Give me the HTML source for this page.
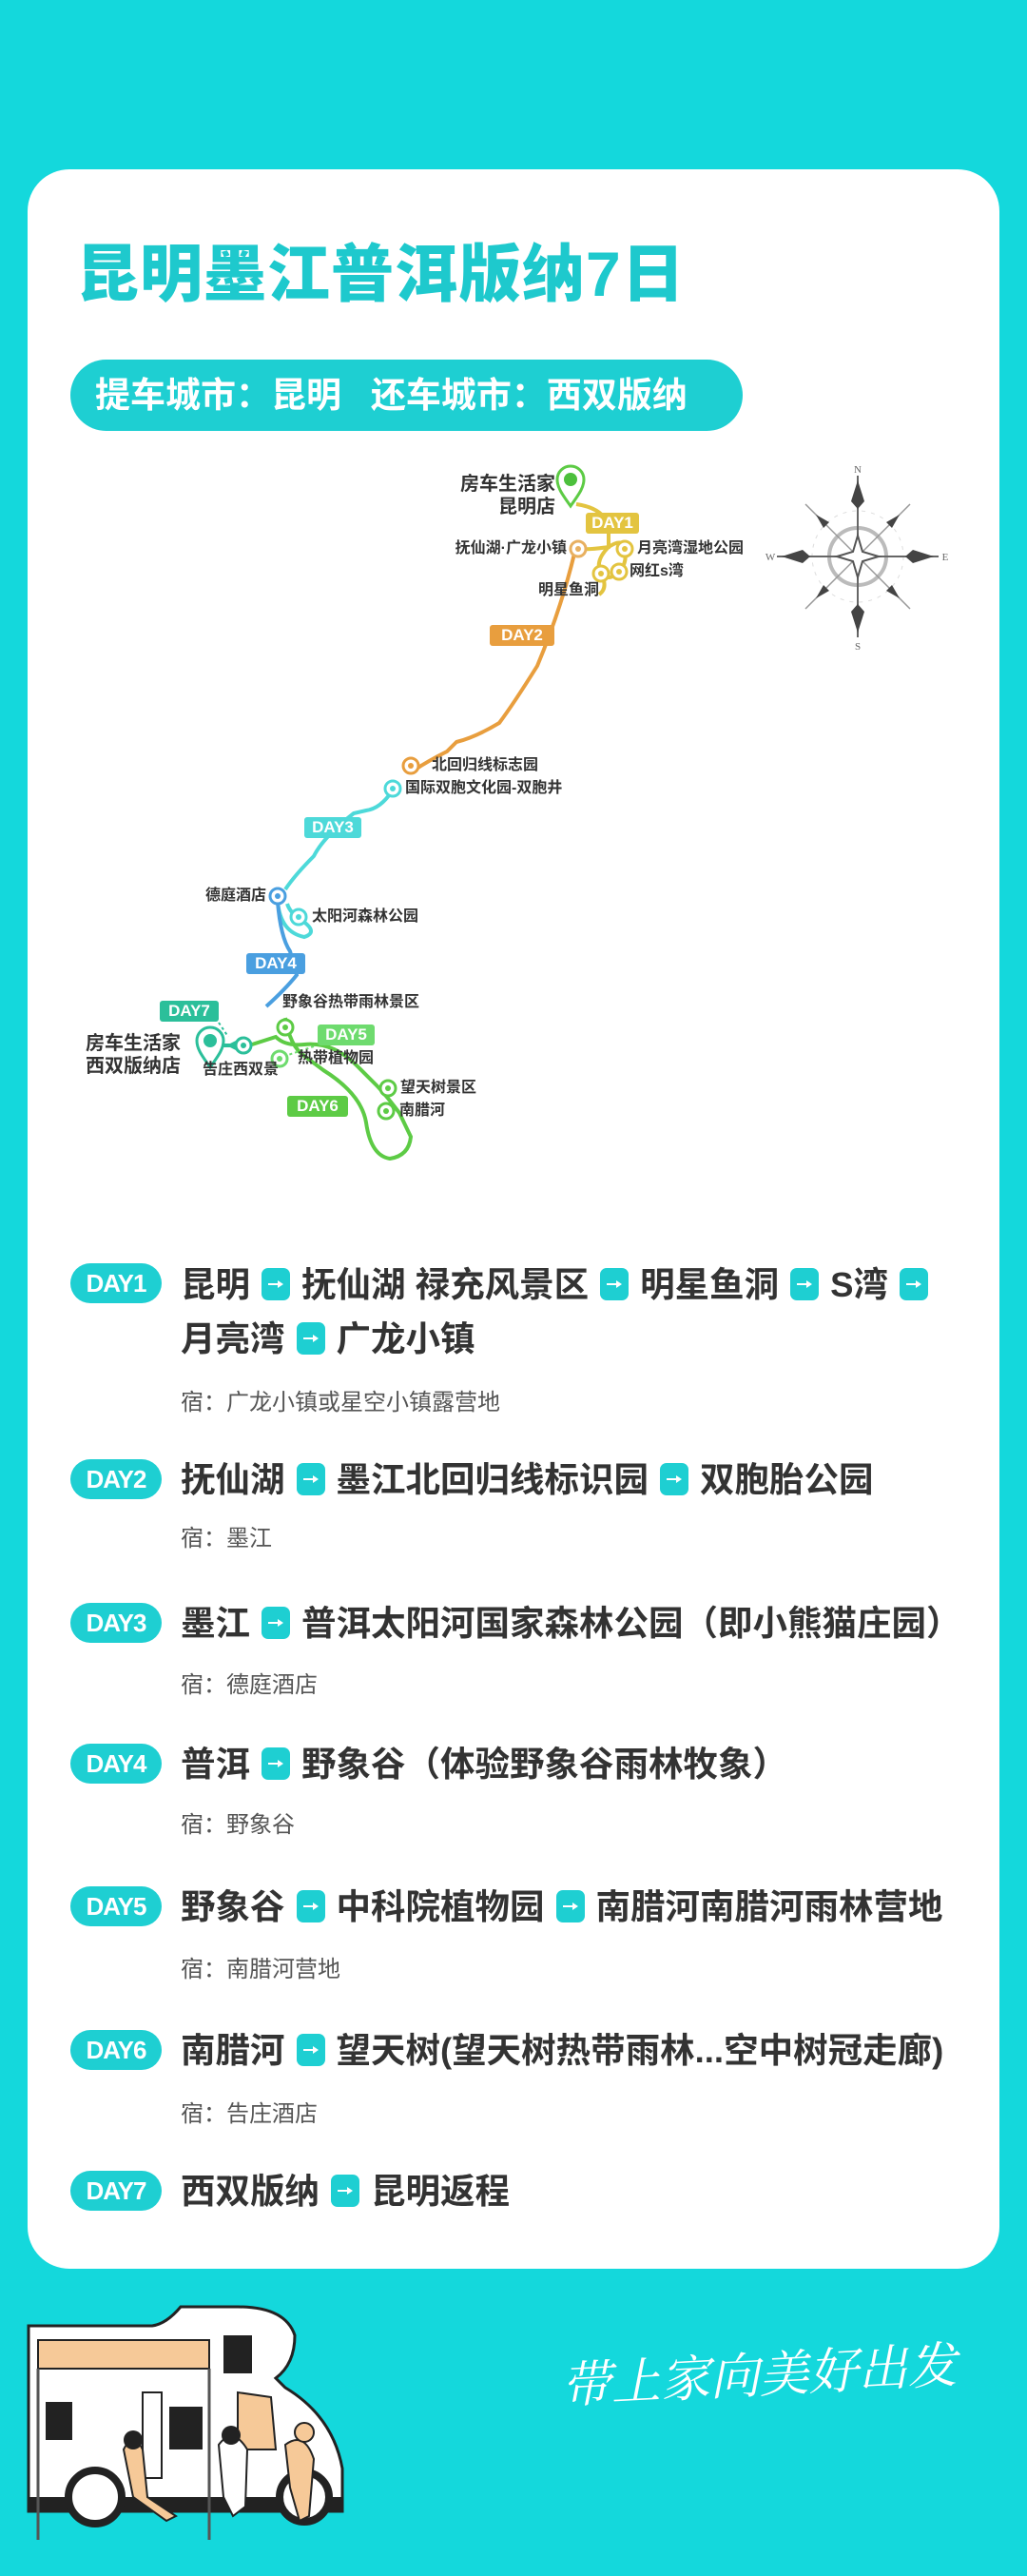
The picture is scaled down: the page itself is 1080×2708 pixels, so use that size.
<!DOCTYPE html>
<html><head><meta charset="utf-8">
<style>
*{margin:0;padding:0;box-sizing:border-box}
body{width:1080px;height:2708px;background:#14D8DC;position:relative;overflow:hidden;font-family:"Liberation Sans","Noto Sans CJK SC",sans-serif}
.card{position:absolute;left:29px;top:178px;width:1022px;height:2207px;background:#fff;border-radius:44px}
.title{position:absolute;left:80px;top:248px;font-size:66px;font-weight:900;color:#1EC9CD;letter-spacing:1px;white-space:nowrap;line-height:80px}
.pill{position:absolute;left:74px;top:378px;width:707px;height:75px;background:#1ECFD2;border-radius:38px;color:#fff;font-size:37px;font-weight:700;line-height:75px;padding-left:26px;white-space:nowrap}
.badge{position:absolute;left:74px;width:96px;height:42px;border-radius:21px;background:#1ECFD2;color:#fff;font-size:26px;font-weight:700;text-align:center;line-height:42px;letter-spacing:-1px}
.line{position:absolute;left:190px;font-size:36.5px;font-weight:700;color:#333;white-space:nowrap;line-height:50px}
.ar{display:inline-block;width:30px;height:34px;background:#1ECFD2;border-radius:7px;vertical-align:-4px;margin:0 12px;position:relative}
.ar:after{content:"";position:absolute;left:7px;top:16px;width:13px;height:2px;background:#fff}
.ar:before{content:"";position:absolute;left:17px;top:13px;border-left:6px solid #fff;border-top:4px solid transparent;border-bottom:4px solid transparent}
.stay{position:absolute;left:190px;font-size:24px;color:#555;white-space:nowrap}
.ml{position:absolute;font-size:18px;font-weight:700;color:#333;white-space:nowrap;line-height:22px}
.mb{position:absolute;color:#fff;font-size:17px;font-weight:700;text-align:center;border-radius:3px;line-height:22px}
.slogan{position:absolute;left:590px;top:2455px;font-family:"Liberation Serif","Noto Serif CJK SC",serif;font-style:italic;font-size:52px;color:#fff;white-space:nowrap;transform:rotate(-3deg)}
</style></head><body>
<div class="card"></div>
<div class="title">昆明墨江普洱版纳7日</div>
<div class="pill">提车城市：昆明&nbsp;&nbsp;&nbsp;还车城市：西双版纳</div>

<svg style="position:absolute;left:0;top:0" width="1080" height="1260">
<path d="M606,530 Q640,535 640,560 L640,575 Q620,578 612,577" stroke="#E3C440" stroke-width="4" fill="none"/>
<path d="M640,575 Q655,565 657,577 Q660,592 651,601 Q640,612 632,603 Q625,590 640,575" stroke="#E3C440" stroke-width="4" fill="none"/>
<path d="M632,603 Q640,618 630,625" stroke="#E3C440" stroke-width="4" fill="none"/>
<path d="M604,582 Q590,640 565,700 Q540,740 525,760 Q500,775 480,780 L470,790 Q450,800 435,810" stroke="#E89E3E" stroke-width="4" fill="none"/>
<path d="M412,832 Q400,850 385,852 L372,855 Q340,880 330,900 Q310,920 300,935" stroke="#4DD9D9" stroke-width="4" fill="none"/>
<path d="M292,948 Q295,980 320,985 Q335,980 318,968 Q305,960 302,950" stroke="#4DD9D9" stroke-width="4" fill="none"/>
<path d="M292,948 Q295,985 305,1000 L312,1025 Q300,1040 280,1058" stroke="#4A9FE0" stroke-width="4" fill="none"/>
<path d="M300,1070 Q305,1100 320,1110 L340,1125 Q380,1150 385,1180 Q390,1215 410,1218 Q430,1215 432,1195 L420,1170 Q405,1150 395,1140 L375,1120 Q350,1095 320,1098 Q300,1100 290,1090 L265,1098" stroke="#5DCB45" stroke-width="4" fill="none"/>
<path d="M233,1099 L250,1099" stroke="#2BBF9A" stroke-width="4"/>
<path d="M248,1094 L238,1099 L248,1104Z" fill="#2BBF9A"/>
<path d="M230,1075 L240,1090" stroke="#2BBF9A" stroke-width="2" stroke-dasharray="3,3"/>
<path d="M330,1100 L300,1110" stroke="#6EDB6E" stroke-width="2" stroke-dasharray="3,3"/>
<g stroke-width="3" fill="#fff">
<circle cx="608" cy="577" r="8" stroke="#E8B060"/><circle cx="608" cy="577" r="3" fill="#E8B060"/>
<circle cx="657" cy="577" r="8" stroke="#E3C440"/><circle cx="657" cy="577" r="3" fill="#E3C440"/>
<circle cx="651" cy="601" r="8" stroke="#E3C440"/><circle cx="651" cy="601" r="3" fill="#E3C440"/>
<circle cx="632" cy="603" r="8" stroke="#E3C440"/><circle cx="632" cy="603" r="3" fill="#E3C440"/>
<circle cx="432" cy="805" r="8" stroke="#E89E3E"/><circle cx="432" cy="805" r="3" fill="#E89E3E"/>
<circle cx="413" cy="829" r="8" stroke="#4DD9D9"/><circle cx="413" cy="829" r="3" fill="#4DD9D9"/>
<circle cx="292" cy="942" r="8" stroke="#4A9FE0"/><circle cx="292" cy="942" r="3" fill="#4A9FE0"/>
<circle cx="314" cy="964" r="8" stroke="#4DD9D9"/><circle cx="314" cy="964" r="3" fill="#4DD9D9"/>
<circle cx="300" cy="1080" r="8" stroke="#5DCB45"/><circle cx="300" cy="1080" r="3" fill="#5DCB45"/>
<circle cx="294" cy="1113" r="8" stroke="#6EDB6E"/><circle cx="294" cy="1113" r="3" fill="#6EDB6E"/>
<circle cx="408" cy="1144" r="8" stroke="#5DCB45"/><circle cx="408" cy="1144" r="3" fill="#5DCB45"/>
<circle cx="406" cy="1168" r="8" stroke="#5DCB45"/><circle cx="406" cy="1168" r="3" fill="#5DCB45"/>
<circle cx="256" cy="1099" r="8" stroke="#2BBF9A"/><circle cx="256" cy="1099" r="3" fill="#2BBF9A"/>
</g>
<path d="M600,532 C590,518 586,512 586,504 A14,14 0 1 1 614,504 C614,512 610,518 600,532Z" fill="#fff" stroke="#5DCB45" stroke-width="3"/>
<circle cx="600" cy="504" r="7" fill="#4CC03C"/>
<path d="M221,1122 C211,1108 207,1102 207,1094 A14,14 0 1 1 235,1094 C235,1102 231,1108 221,1122Z" fill="#fff" stroke="#2BBF9A" stroke-width="3"/>
<circle cx="221" cy="1094" r="7" fill="#2BBF9A"/>
<g transform="translate(902,585)" fill="#444" stroke="#666">
<circle r="30" fill="none" stroke="#bbb" stroke-width="4"/>
<circle r="48" fill="none" stroke="#ddd" stroke-width="1" stroke-dasharray="4,6"/>
<line x1="0" y1="-85" x2="0" y2="85" stroke-width="2"/><line x1="-85" y1="0" x2="85" y2="0" stroke-width="2"/>
<line x1="-55" y1="-55" x2="55" y2="55" stroke="#999" stroke-width="1.5"/><line x1="55" y1="-55" x2="-55" y2="55" stroke="#999" stroke-width="1.5"/>
<path d="M0,-22 L5,-5 L22,0 L5,5 L0,22 L-5,5 L-22,0 L-5,-5Z" fill="#fff" stroke="#555" stroke-width="2"/>
<g stroke="none">
<path d="M0,-80 L7,-58 L0,-50 L-7,-58Z"/><path d="M0,80 L7,58 L0,50 L-7,58Z"/>
<path d="M80,0 L58,7 L50,0 L58,-7Z"/><path d="M-80,0 L-58,7 L-50,0 L-58,-7Z"/>
<path d="M-44,-44 L-30,-36 L-36,-30Z"/><path d="M44,-44 L30,-36 L36,-30Z"/>
<path d="M44,44 L30,36 L36,30Z"/><path d="M-44,44 L-30,36 L-36,30Z"/>
</g>
<g font-size="11" fill="#666" stroke="none" font-family="Liberation Serif,serif" text-anchor="middle">
<text y="-88">N</text><text y="98">S</text><text x="92" y="4">E</text><text x="-92" y="4">W</text>
</g>
</g>
</svg>

<div class="ml" style="left:468px;top:497px;text-align:right;width:116px;font-size:20px;line-height:24px">房车生活家<br>昆明店</div>
<div class="mb" style="left:616px;top:539px;width:56px;background:#E3C440">DAY1</div>
<div class="ml" style="left:454px;top:566px;width:142px;text-align:right;font-size:16px">抚仙湖·广龙小镇</div>
<div class="ml" style="left:670px;top:566px;font-size:16px">月亮湾湿地公园</div>
<div class="ml" style="left:662px;top:590px;font-size:16px">网红s湾</div>
<div class="ml" style="left:566px;top:610px;font-size:16px">明星鱼洞</div>
<div class="mb" style="left:515px;top:657px;width:68px;background:#E89E3E">DAY2</div>
<div class="ml" style="left:454px;top:794px;font-size:16px">北回归线标志园</div>
<div class="ml" style="left:426px;top:818px;font-size:16px">国际双胞文化园-双胞井</div>
<div class="mb" style="left:320px;top:859px;width:60px;background:#4DD9D9">DAY3</div>
<div class="ml" style="left:200px;top:931px;width:80px;text-align:right;font-size:16px">德庭酒店</div>
<div class="ml" style="left:328px;top:953px;font-size:16px">太阳河森林公园</div>
<div class="mb" style="left:259px;top:1002px;width:62px;background:#4A9FE0">DAY4</div>
<div class="ml" style="left:297px;top:1043px;font-size:16px">野象谷热带雨林景区</div>
<div class="mb" style="left:168px;top:1052px;width:62px;background:#2BBF9A">DAY7</div>
<div class="mb" style="left:334px;top:1077px;width:60px;background:#6EDB6E">DAY5</div>
<div class="ml" style="left:90px;top:1085px;font-size:20px;line-height:24px">房车生活家<br>西双版纳店</div>
<div class="ml" style="left:313px;top:1102px;font-size:16px">热带植物园</div>
<div class="ml" style="left:213px;top:1114px;font-size:16px">告庄西双景</div>
<div class="ml" style="left:421px;top:1133px;font-size:16px">望天树景区</div>
<div class="mb" style="left:302px;top:1152px;width:64px;background:#5DCB45">DAY6</div>
<div class="ml" style="left:420px;top:1157px;font-size:16px">南腊河</div>

<div class="badge" style="top:1328px">DAY1</div>
<div class="line" style="top:1326px">昆明<span class="ar"></span>抚仙湖 禄充风景区<span class="ar"></span>明星鱼洞<span class="ar"></span>S湾<span class="ar"></span></div>
<div class="line" style="top:1383px">月亮湾<span class="ar"></span>广龙小镇</div>
<div class="stay" style="top:1454px">宿：广龙小镇或星空小镇露营地</div>

<div class="badge" style="top:1534px">DAY2</div>
<div class="line" style="top:1531px">抚仙湖<span class="ar"></span>墨江北回归线标识园<span class="ar"></span>双胞胎公园</div>
<div class="stay" style="top:1597px">宿：墨江</div>

<div class="badge" style="top:1685px">DAY3</div>
<div class="line" style="top:1682px">墨江<span class="ar"></span>普洱太阳河国家森林公园（即小熊猫庄园）</div>
<div class="stay" style="top:1751px">宿：德庭酒店</div>

<div class="badge" style="top:1833px">DAY4</div>
<div class="line" style="top:1830px">普洱<span class="ar"></span>野象谷（体验野象谷雨林牧象）</div>
<div class="stay" style="top:1898px">宿：野象谷</div>

<div class="badge" style="top:1983px">DAY5</div>
<div class="line" style="top:1980px">野象谷<span class="ar"></span>中科院植物园<span class="ar"></span>南腊河南腊河雨林营地</div>
<div class="stay" style="top:2050px">宿：南腊河营地</div>

<div class="badge" style="top:2134px">DAY6</div>
<div class="line" style="top:2131px">南腊河<span class="ar"></span>望天树(望天树热带雨林...空中树冠走廊)</div>
<div class="stay" style="top:2202px">宿：告庄酒店</div>

<div class="badge" style="top:2282px">DAY7</div>
<div class="line" style="top:2279px">西双版纳<span class="ar"></span>昆明返程</div>

<svg style="position:absolute;left:0;top:2325px" width="400" height="383">
<path d="M30,130 L30,315 L360,315 L360,270 Q350,215 300,185 L290,175 Q310,160 310,130 Q300,100 250,100 L190,100 Q175,118 160,120 L30,120Z" fill="#fff" stroke="#222" stroke-width="3"/>
<rect x="40" y="135" width="180" height="30" fill="#F6C998" stroke="#222" stroke-width="2"/>
<rect x="235" y="130" width="30" height="40" fill="#222"/>
<rect x="48" y="200" width="28" height="40" fill="#222"/>
<rect x="178" y="205" width="35" height="45" fill="#222"/>
<rect x="150" y="190" width="20" height="90" fill="none" stroke="#222" stroke-width="2"/>
<path d="M250,190 L250,250 L290,250 L285,195Z" fill="#F6C998" stroke="#222" stroke-width="2"/>
<rect x="30" y="300" width="330" height="15" fill="#222"/>
<circle cx="100" cy="300" r="28" fill="#fff" stroke="#222" stroke-width="8"/>
<circle cx="320" cy="300" r="26" fill="#fff" stroke="#222" stroke-width="8"/>
<line x1="40" y1="165" x2="40" y2="345" stroke="#555" stroke-width="3"/>
<line x1="220" y1="165" x2="220" y2="345" stroke="#555" stroke-width="3"/>
<path d="M130,250 Q140,230 150,250 L155,300 L185,320 L175,325 L140,300Z" fill="#F6C998" stroke="#222" stroke-width="2"/>
<circle cx="140" cy="240" r="10" fill="#222"/>
<path d="M230,245 Q245,225 260,250 L258,310 L245,320 L235,300Z" fill="#fff" stroke="#222" stroke-width="2"/>
<circle cx="243" cy="235" r="10" fill="#222"/>
<path d="M300,245 Q320,230 330,260 L325,320 L315,325 L305,290Z" fill="#F6C998" stroke="#222" stroke-width="2"/>
<circle cx="320" cy="232" r="10" fill="#F6C998" stroke="#222" stroke-width="2"/>
</svg>
<div class="slogan">带上家向美好出发</div>
</body></html>
